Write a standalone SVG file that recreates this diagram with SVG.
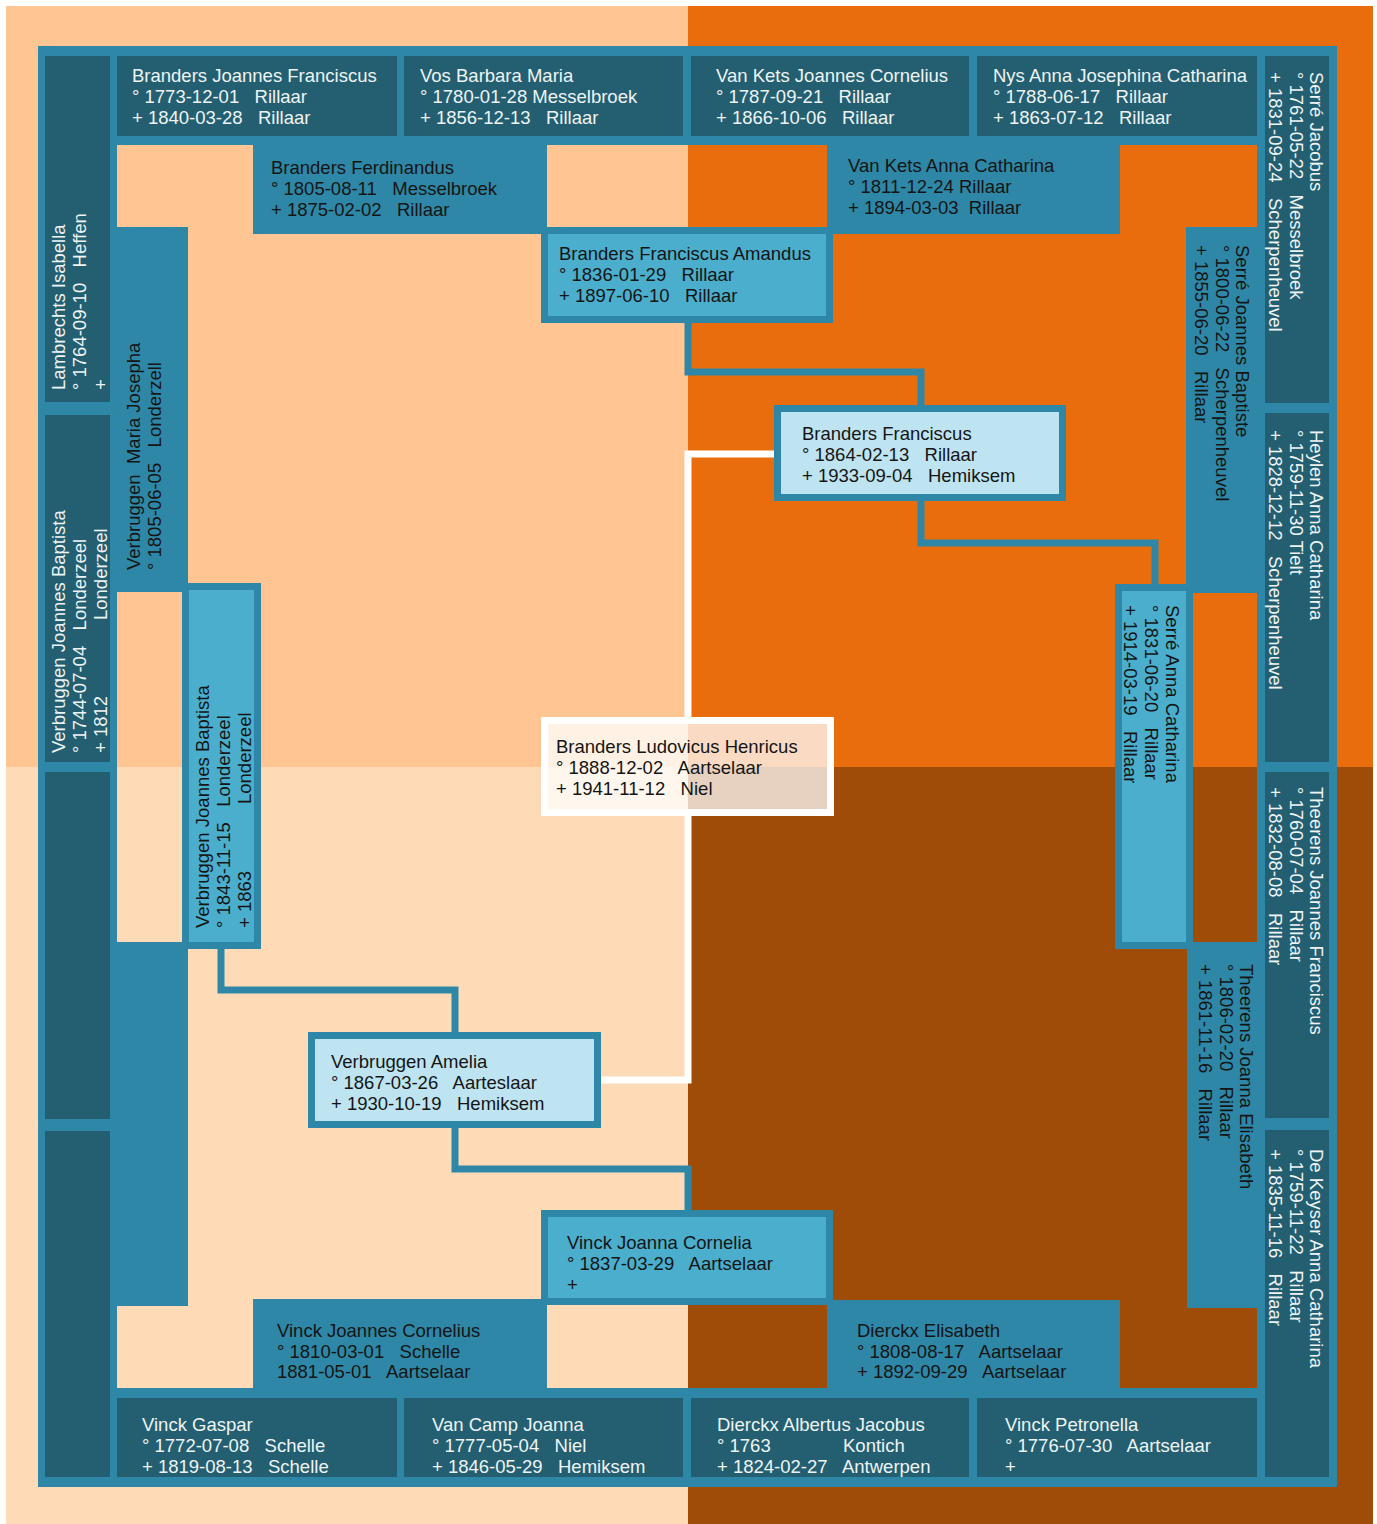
<svg xmlns="http://www.w3.org/2000/svg" width="1377" height="1524" viewBox="0 0 1377 1524">
<style>
.t{font-family:"Liberation Sans",Arial,sans-serif;font-size:18.5px;white-space:pre}
.lt{fill:#EEF4F6}
.dk{fill:#151515}
.dark{fill:#235F70}
.teal{fill:#2E87A6}
.g2{fill:#4AAECC;stroke:#2E87A6;stroke-width:7}
.g1{fill:#BEE4F1;stroke:#2E87A6;stroke-width:7}
.g0{fill:#FFFFFF;fill-opacity:0.75;stroke:#FFFFFF;stroke-width:7}
.conn{fill:none;stroke:#2E87A6;stroke-width:7;stroke-linejoin:miter}
.wconn{fill:none;stroke:#FFFFFF;stroke-width:7;stroke-linejoin:miter}
</style>
<rect x="0" y="0" width="1377" height="1524" fill="#FFFFFF"/>
<g id="background">
<rect x="6" y="6" width="682" height="761" fill="#FFC592"/>
<rect x="688" y="6" width="685" height="761" fill="#EA6D0D"/>
<rect x="6" y="767" width="682" height="757" fill="#FFDAB7"/>
<rect x="688" y="767" width="685" height="757" fill="#9F4C09"/>
</g>
<g id="frame">
<path class="teal" fill-rule="evenodd" d="M38,46 H1337 V1487 H38 Z M117,145 V1388 H1257 V145 Z"/>
</g>

<g id="connectors">
<path class="conn" d="M688,323 V372 H921 V405"/>
<path class="conn" d="M921,501 V543 H1155 V584"/>
<path class="conn" d="M221,949 V990 H455 V1032"/>
<path class="conn" d="M455,1128 V1169 H688 V1210"/>
<path class="wconn" d="M774,454 H688 V717"/>
<path class="wconn" d="M688,816 V1080 H601"/>
</g>

<!-- Generation 4 (outer frame) -->
<g id="branders-joannes-franciscus">
<rect class="dark" x="117" y="56" width="280" height="80"/>
<text class="t lt" x="132" y="82">Branders Joannes Franciscus</text>
<text class="t lt" x="132" y="103">° 1773-12-01   Rillaar</text>
<text class="t lt" x="132" y="124">+ 1840-03-28   Rillaar</text>
</g>
<g id="vos-barbara-maria">
<rect class="dark" x="404" y="56" width="279" height="80"/>
<text class="t lt" x="420" y="82">Vos Barbara Maria</text>
<text class="t lt" x="420" y="103">° 1780-01-28 Messelbroek</text>
<text class="t lt" x="420" y="124">+ 1856-12-13   Rillaar</text>
</g>
<g id="van-kets-joannes-cornelius">
<rect class="dark" x="691" y="56" width="278" height="80"/>
<text class="t lt" x="716" y="82">Van Kets Joannes Cornelius</text>
<text class="t lt" x="716" y="103">° 1787-09-21   Rillaar</text>
<text class="t lt" x="716" y="124">+ 1866-10-06   Rillaar</text>
</g>
<g id="nys-anna-josephina-catharina">
<rect class="dark" x="977" y="56" width="280" height="80"/>
<text class="t lt" x="993" y="82">Nys Anna Josephina Catharina</text>
<text class="t lt" x="993" y="103">° 1788-06-17   Rillaar</text>
<text class="t lt" x="993" y="124">+ 1863-07-12   Rillaar</text>
</g>

<g id="serre-jacobus">
<rect class="dark" x="1265" y="56" width="64" height="347"/>
<text class="t lt" transform="rotate(90)" x="72" y="-1310">Serré Jacobus</text>
<text class="t lt" transform="rotate(90)" x="72" y="-1290">° 1761-05-22   Messelbroek</text>
<text class="t lt" transform="rotate(90)" x="72" y="-1269">+ 1831-09-24   Scherpenheuvel</text>
</g>
<g id="heylen-anna-catharina">
<rect class="dark" x="1265" y="413" width="64" height="349"/>
<text class="t lt" transform="rotate(90)" x="430" y="-1310">Heylen Anna Catharina</text>
<text class="t lt" transform="rotate(90)" x="430" y="-1290">° 1759-11-30 Tielt</text>
<text class="t lt" transform="rotate(90)" x="430" y="-1269">+ 1828-12-12   Scherpenheuvel</text>
</g>
<g id="theerens-joannes-franciscus">
<rect class="dark" x="1265" y="772" width="64" height="346"/>
<text class="t lt" transform="rotate(90)" x="787" y="-1310">Theerens Joannes Franciscus</text>
<text class="t lt" transform="rotate(90)" x="787" y="-1290">° 1760-07-04   Rillaar</text>
<text class="t lt" transform="rotate(90)" x="787" y="-1269">+ 1832-08-08   Rillaar</text>
</g>
<g id="de-keyser-anna-catharina">
<rect class="dark" x="1265" y="1130" width="64" height="347"/>
<text class="t lt" transform="rotate(90)" x="1149" y="-1310">De Keyser Anna Catharina</text>
<text class="t lt" transform="rotate(90)" x="1149" y="-1290">° 1759-11-22   Rillaar</text>
<text class="t lt" transform="rotate(90)" x="1149" y="-1269">+ 1835-11-16   Rillaar</text>
</g>

<g id="vinck-gaspar">
<rect class="dark" x="117" y="1398" width="280" height="79"/>
<text class="t lt" x="142" y="1431">Vinck Gaspar</text>
<text class="t lt" x="142" y="1452">° 1772-07-08   Schelle</text>
<text class="t lt" x="142" y="1473">+ 1819-08-13   Schelle</text>
</g>
<g id="van-camp-joanna">
<rect class="dark" x="404" y="1398" width="279" height="79"/>
<text class="t lt" x="432" y="1431">Van Camp Joanna</text>
<text class="t lt" x="432" y="1452">° 1777-05-04   Niel</text>
<text class="t lt" x="432" y="1473">+ 1846-05-29   Hemiksem</text>
</g>
<g id="dierckx-albertus-jacobus">
<rect class="dark" x="691" y="1398" width="278" height="79"/>
<text class="t lt" x="717" y="1431">Dierckx Albertus Jacobus</text>
<text class="t lt" x="717" y="1452">° 1763<tspan x="843">Kontich</tspan></text>
<text class="t lt" x="717" y="1473">+ 1824-02-27   Antwerpen</text>
</g>
<g id="vinck-petronella">
<rect class="dark" x="977" y="1398" width="280" height="79"/>
<text class="t lt" x="1005" y="1431">Vinck Petronella</text>
<text class="t lt" x="1005" y="1452">° 1776-07-30   Aartselaar</text>
<text class="t lt" x="1005" y="1473">+</text>
</g>

<g id="lambrechts-isabella">
<rect class="dark" x="45" y="56" width="65" height="346"/>
<text class="t lt" transform="rotate(-90)" x="-390" y="65">Lambrechts Isabella</text>
<text class="t lt" transform="rotate(-90)" x="-390" y="86">° 1764-09-10   Heffen</text>
<text class="t lt" transform="rotate(-90)" x="-390" y="107">+</text>
</g>
<g id="verbruggen-joannes-baptista-1744">
<rect class="dark" x="45" y="415" width="65" height="347"/>
<text class="t lt" transform="rotate(-90)" x="-753" y="65">Verbruggen Joannes Baptista</text>
<text class="t lt" transform="rotate(-90)" x="-753" y="86">° 1744-07-04   Londerzeel</text>
<text class="t lt" transform="rotate(-90)" x="-753" y="107">+ 1812<tspan x="-620">Londerzeel</tspan></text>
</g>
<g id="unknown-left-3">
<rect class="dark" x="45" y="772" width="65" height="347"/>
</g>
<g id="unknown-left-4">
<rect class="dark" x="45" y="1131" width="65" height="346"/>
</g>

<!-- Generation 3 -->
<g id="branders-ferdinandus">
<rect class="teal" x="253" y="140" width="294" height="94"/>
<text class="t dk" x="271" y="174">Branders Ferdinandus</text>
<text class="t dk" x="271" y="195">° 1805-08-11   Messelbroek</text>
<text class="t dk" x="271" y="216">+ 1875-02-02   Rillaar</text>
</g>
<g id="van-kets-anna-catharina">
<rect class="teal" x="827" y="140" width="293" height="94"/>
<text class="t dk" x="848" y="172">Van Kets Anna Catharina</text>
<text class="t dk" x="848" y="193">° 1811-12-24 Rillaar</text>
<text class="t dk" x="848" y="214">+ 1894-03-03  Rillaar</text>
</g>
<g id="serre-joannes-baptiste">
<rect class="teal" x="1186" y="227" width="74" height="366"/>
<text class="t dk" transform="rotate(90)" x="245" y="-1236">Serré Joannes Baptiste</text>
<text class="t dk" transform="rotate(90)" x="245" y="-1216">° 1800-06-22   Scherpenheuvel</text>
<text class="t dk" transform="rotate(90)" x="245" y="-1195">+ 1855-06-20   Rillaar</text>
</g>
<g id="theerens-joanna-elisabeth">
<rect class="teal" x="1187" y="942" width="73" height="366"/>
<text class="t dk" transform="rotate(90)" x="964" y="-1240">Theerens Joanna Elisabeth</text>
<text class="t dk" transform="rotate(90)" x="964" y="-1220">° 1806-02-20   Rillaar</text>
<text class="t dk" transform="rotate(90)" x="964" y="-1199">+ 1861-11-16   Rillaar</text>
</g>
<g id="vinck-joannes-cornelius">
<rect class="teal" x="253" y="1299" width="294" height="93"/>
<text class="t dk" x="277" y="1337">Vinck Joannes Cornelius</text>
<text class="t dk" x="277" y="1358">° 1810-03-01   Schelle</text>
<text class="t dk" x="277" y="1378">1881-05-01   Aartselaar</text>
</g>
<g id="dierckx-elisabeth">
<rect class="teal" x="827" y="1300" width="293" height="92"/>
<text class="t dk" x="857" y="1337">Dierckx Elisabeth</text>
<text class="t dk" x="857" y="1358">° 1808-08-17   Aartselaar</text>
<text class="t dk" x="857" y="1378">+ 1892-09-29   Aartselaar</text>
</g>
<g id="verbruggen-maria-josepha">
<rect class="teal" x="114" y="227" width="74" height="365"/>
<text class="t dk" transform="rotate(-90)" x="-570" y="140">Verbruggen  Maria Josepha</text>
<text class="t dk" transform="rotate(-90)" x="-570" y="161">° 1805-06-05   Londerzell</text>
</g>
<g id="unknown-gen3-left">
<rect class="teal" x="114" y="942" width="74" height="364"/>
</g>

<!-- Generation 2 -->
<g id="branders-franciscus-amandus">
<rect class="g2" x="544.5" y="230.5" width="285" height="89"/>
<text class="t dk" x="559" y="260">Branders Franciscus Amandus</text>
<text class="t dk" x="559" y="281">° 1836-01-29   Rillaar</text>
<text class="t dk" x="559" y="302">+ 1897-06-10   Rillaar</text>
</g>
<g id="serre-anna-catharina">
<rect class="g2" x="1118.5" y="587.5" width="71" height="358"/>
<text class="t dk" transform="rotate(90)" x="605" y="-1166">Serré Anna Catharina</text>
<text class="t dk" transform="rotate(90)" x="605" y="-1145">° 1831-06-20   Rillaar</text>
<text class="t dk" transform="rotate(90)" x="605" y="-1124">+ 1914-03-19   Rillaar</text>
</g>
<g id="verbruggen-joannes-baptista-1843">
<rect class="g2" x="185.5" y="586.5" width="72" height="359"/>
<text class="t dk" transform="rotate(-90)" x="-928" y="209">Verbruggen Joannes Baptista</text>
<text class="t dk" transform="rotate(-90)" x="-928" y="230">° 1843-11-15   Londerzeel</text>
<text class="t dk" transform="rotate(-90)" x="-928" y="251">+ 1863<tspan x="-804">Londerzeel</tspan></text>
</g>
<g id="vinck-joanna-cornelia">
<rect class="g2" x="544.5" y="1213.5" width="285" height="88"/>
<text class="t dk" x="567" y="1249">Vinck Joanna Cornelia</text>
<text class="t dk" x="567" y="1270">° 1837-03-29   Aartselaar</text>
<text class="t dk" x="567" y="1291">+</text>
</g>

<!-- Generation 1 -->
<g id="branders-franciscus">
<rect class="g1" x="777.5" y="408.5" width="285" height="89"/>
<text class="t dk" x="802" y="440">Branders Franciscus</text>
<text class="t dk" x="802" y="461">° 1864-02-13   Rillaar</text>
<text class="t dk" x="802" y="482">+ 1933-09-04   Hemiksem</text>
</g>
<g id="verbruggen-amelia">
<rect class="g1" x="311.5" y="1035.5" width="286" height="89"/>
<text class="t dk" x="331" y="1068">Verbruggen Amelia</text>
<text class="t dk" x="331" y="1089">° 1867-03-26   Aarteslaar</text>
<text class="t dk" x="331" y="1110">+ 1930-10-19   Hemiksem</text>
</g>

<!-- Generation 0 -->
<g id="branders-ludovicus-henricus">
<rect class="g0" x="544.5" y="720.5" width="286" height="92"/>
<text class="t dk" x="556" y="753">Branders Ludovicus Henricus</text>
<text class="t dk" x="556" y="774">° 1888-12-02   Aartselaar</text>
<text class="t dk" x="556" y="795">+ 1941-11-12   Niel</text>
</g>
</svg>
